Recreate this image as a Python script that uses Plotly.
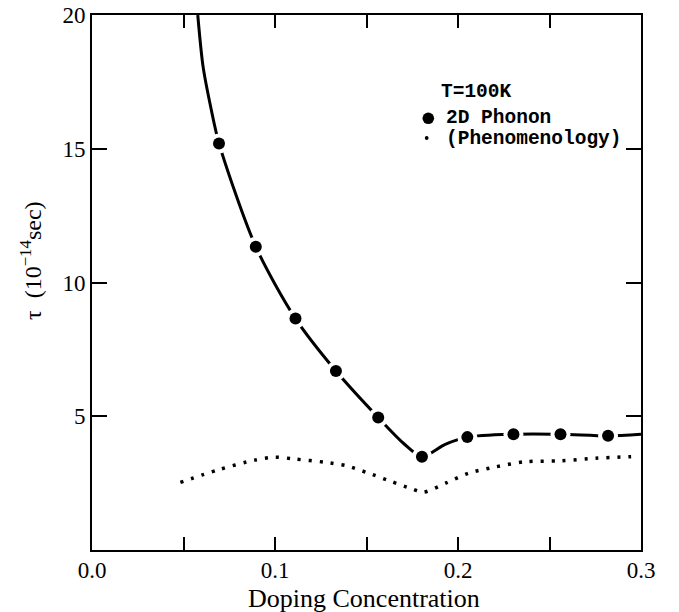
import plotly.graph_objects as go

# ---- data ----
phonon_x = [0.0694, 0.0895, 0.1112, 0.1333, 0.1564, 0.1803, 0.2051, 0.2303, 0.2560, 0.2820]
phonon_y = [15.20, 11.34, 8.65, 6.69, 4.95, 3.49, 4.22, 4.33, 4.33, 4.27]

curve_x = [0.0578, 0.0607, 0.0652, 0.0694, 0.0895, 0.1112, 0.1333, 0.1564, 0.1700, 0.1803,
           0.1930, 0.2051, 0.2303, 0.2560, 0.2820, 0.3000]
curve_y = [20.0, 18.07, 16.45, 15.20, 11.34, 8.65, 6.69, 4.95, 4.00, 3.49,
           3.95, 4.22, 4.33, 4.33, 4.27, 4.33]

phen_x = [0.0483, 0.0691, 0.0889, 0.0999, 0.1108, 0.1273, 0.1391, 0.1504, 0.1628, 0.1750,
          0.1811, 0.1939, 0.2057, 0.2180, 0.2367, 0.2559, 0.2750, 0.2946]
phen_y = [2.53, 3.00, 3.36, 3.47, 3.40, 3.28, 3.15, 2.89, 2.58, 2.28,
          2.16, 2.52, 2.87, 3.07, 3.30, 3.33, 3.43, 3.49]

x_tickvals = [0.0, 0.05, 0.1, 0.15, 0.2, 0.25, 0.3]
x_ticktext = ["0.0", "", "0.1", "", "0.2", "", "0.3"]
y_tickvals = [5, 10, 15, 20]
y_ticktext = ["5", "10", "15", "20"]

legend_title = "T=100K"
legend_labels = ["2D Phonon", "(Phenomenology)"]

# ---- layout geometry (pixels) ----
W, H = 679, 612
L, R, T, B = 92, 38, 15, 62
PW, PH = W - L - R, H - T - B


def px(xp):
    return (xp - L) / PW


def py(yp):
    return (H - B - yp) / PH


SERIF = "Liberation Serif, Times New Roman, serif"
MONO = "Liberation Mono, Courier New, monospace"

fig = go.Figure()

# dotted phenomenology curve
fig.add_trace(go.Scatter(
    x=phen_x, y=phen_y, mode="lines",
    line=dict(color="black", width=3.5, dash="3px,8px", shape="spline", smoothing=0.8),
    hoverinfo="skip", showlegend=False))

# 2D phonon curve
fig.add_trace(go.Scatter(
    x=curve_x, y=curve_y, mode="lines",
    line=dict(color="black", width=3, shape="spline", smoothing=0.8),
    hoverinfo="skip", showlegend=False))

# white knock-out discs (gaps around markers)
fig.add_trace(go.Scatter(
    x=phonon_x, y=phonon_y, mode="markers",
    marker=dict(color="white", size=20, line=dict(width=0)),
    hoverinfo="skip", showlegend=False))

# phonon markers
fig.add_trace(go.Scatter(
    x=phonon_x, y=phonon_y, mode="markers",
    marker=dict(color="black", size=12, line=dict(width=0)),
    showlegend=False))

LEG_FONT = dict(family=MONO, size=19.5, color="black", weight="bold")

annotations = [
    dict(text=legend_title, x=px(438.5), y=py(91.5), xref="paper", yref="paper",
         xanchor="left", yanchor="middle", showarrow=False, font=LEG_FONT),
    dict(text=legend_labels[0], x=px(444), y=py(118), xref="paper", yref="paper",
         xanchor="left", yanchor="middle", showarrow=False, font=LEG_FONT),
    dict(text=legend_labels[1], x=px(444), y=py(139), xref="paper", yref="paper",
         xanchor="left", yanchor="middle", showarrow=False, font=LEG_FONT),
    dict(text="Doping Concentration", x=px(364), y=py(598), xref="paper", yref="paper",
         xanchor="center", yanchor="middle", showarrow=False,
         font=dict(family=SERIF, size=26, color="black")),
    dict(text="τ  (10<sup>−14</sup>sec)", x=px(31), y=py(261), xref="paper", yref="paper",
         xanchor="center", yanchor="middle", showarrow=False, textangle=-90,
         font=dict(family=SERIF, size=24, color="black")),
]

shapes = [
    dict(type="circle", xref="paper", yref="paper",
         x0=px(428.3 - 5.8), x1=px(428.3 + 5.8), y0=py(118.3 + 5.8), y1=py(118.3 - 5.8),
         fillcolor="black", line=dict(width=0)),
    dict(type="circle", xref="paper", yref="paper",
         x0=px(426.7 - 1.9), x1=px(426.7 + 1.9), y0=py(138 + 1.9), y1=py(138 - 1.9),
         fillcolor="black", line=dict(width=0)),
]

axis_common = dict(
    showline=True, linecolor="black", linewidth=2, mirror="ticks",
    ticks="inside", tickcolor="black", tickwidth=2,
    showgrid=False, zeroline=False, automargin=False,
    tickfont=dict(family=SERIF, size=23, color="black"),
)

fig.update_layout(
    width=W, height=H,
    margin=dict(l=L, r=R, t=T, b=B, pad=0, autoexpand=False),
    paper_bgcolor="white", plot_bgcolor="white",
    xaxis=dict(range=[0, 0.3], tickmode="array", tickvals=x_tickvals, ticktext=x_ticktext,
               ticklen=13, ticklabelstandoff=-2, **axis_common),
    yaxis=dict(range=[0, 20], tickmode="array", tickvals=y_tickvals, ticktext=y_ticktext,
               ticklen=15, **axis_common),
    annotations=annotations, shapes=shapes,
    showlegend=False,
)

fig.write_html("out.html")
